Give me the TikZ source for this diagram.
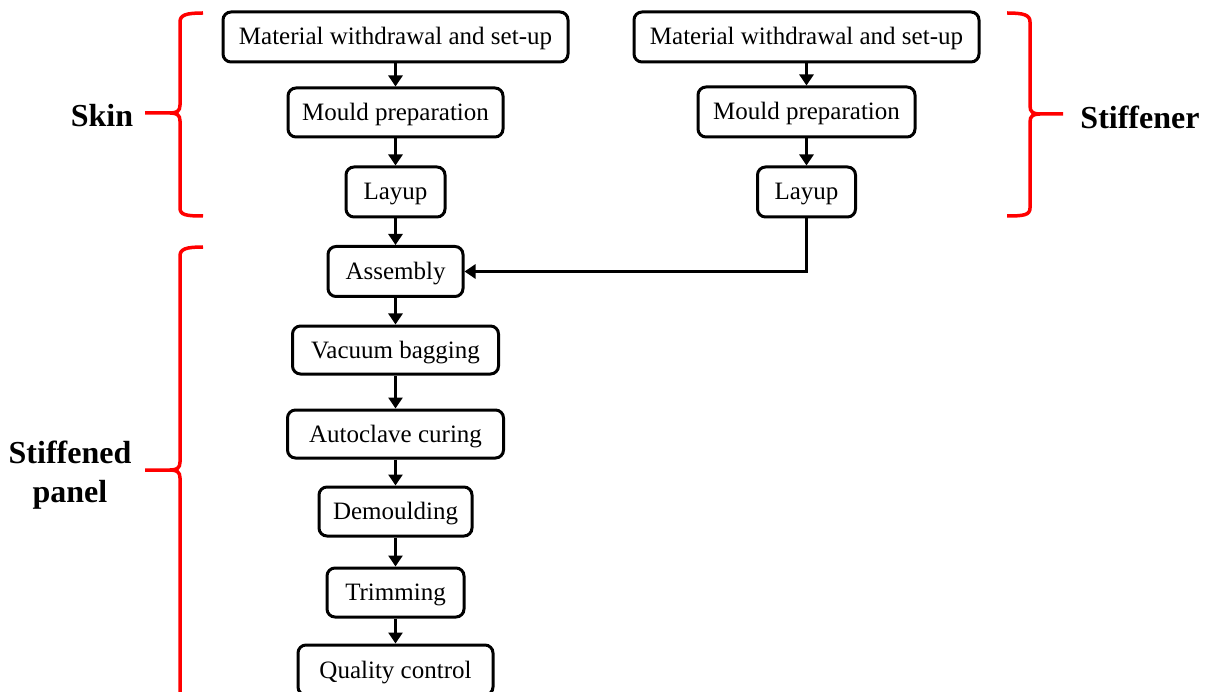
\documentclass[tikz,border=0pt]{standalone}
\usepackage{fontspec}
\setmainfont{Liberation Serif}
\usetikzlibrary{arrows.meta}
\begin{document}
\begin{tikzpicture}[x=1pt,y=-1pt,
  stepbox/.style={draw=black,line width=3pt,rounded corners=8pt,inner sep=0pt,
    text height=19pt,text depth=3pt,
    font=\fontsize{25}{29}\selectfont,align=center},
  arr/.style={line width=2.6pt,-{Triangle[width=14pt,length=11pt]}},
  brace/.style={draw=red,line width=3.5pt},
  grouplabel/.style={font=\fontsize{32}{39}\selectfont\bfseries,align=center,inner sep=0pt}]
\useasboundingbox (0,0) rectangle (1209,692);
% left column
\node[stepbox,minimum width=345pt,minimum height=50pt] (lm) at (395.5,37) {Material withdrawal and set-up};
\node[stepbox,minimum width=215pt,minimum height=49pt] (lmo) at (395.5,112.5) {Mould preparation};
\node[stepbox,minimum width=99pt,minimum height=50pt] (ll) at (395.5,192) {Layup};
\node[stepbox,minimum width=135pt,minimum height=50pt] (as) at (395.5,271.5) {Assembly};
\node[stepbox,minimum width=206pt,minimum height=48pt] (vb) at (395.5,350) {Vacuum bagging};
\node[stepbox,minimum width=216pt,minimum height=48pt] (ac) at (395.5,434) {Autoclave curing};
\node[stepbox,minimum width=153pt,minimum height=49pt] (dm) at (395.5,511.5) {Demoulding};
\node[stepbox,minimum width=137pt,minimum height=49pt] (tr) at (395.5,592.5) {Trimming};
\node[stepbox,minimum width=195pt,minimum height=50pt] (qc) at (395.5,670) {Quality control};
% right column
\node[stepbox,minimum width=345pt,minimum height=50pt] (rm) at (806.5,37) {Material withdrawal and set-up};
\node[stepbox,minimum width=217pt,minimum height=50pt] (rmo) at (806.5,112) {Mould preparation};
\node[stepbox,minimum width=98pt,minimum height=50pt] (rl) at (806.5,192) {Layup};
% connectors
\draw[arr] (lm.south) -- (lmo.north);
\draw[arr] (lmo.south) -- (ll.north);
\draw[arr] (ll.south) -- (as.north);
\draw[arr] (as.south) -- (vb.north);
\draw[arr] (vb.south) -- (ac.north);
\draw[arr] (ac.south) -- (dm.north);
\draw[arr] (dm.south) -- (tr.north);
\draw[arr] (tr.south) -- (qc.north);
\draw[arr] (rm.south) -- (rmo.north);
\draw[arr] (rmo.south) -- (rl.north);
\draw[arr] (rl.south) |- (as.east);
% braces
\draw[brace] (203,13) .. controls (186,13) and (180,15) .. (180,22) -- (180,105)
  .. controls (180,111) and (177,113) .. (170,113) -- (145,113);
\draw[brace] (170,113) .. controls (177,113) and (180,115) .. (180,121) -- (180,208)
  .. controls (180,215) and (186,216) .. (203,216);
\draw[brace] (1007,13) .. controls (1024,13) and (1030,15) .. (1030,22) -- (1030,106)
  .. controls (1030,112) and (1033,114) .. (1040,114) -- (1063,114);
\draw[brace] (1040,114) .. controls (1033,114) and (1030,116) .. (1030,122) -- (1030,208)
  .. controls (1030,215) and (1024,216) .. (1007,216);
\draw[brace] (203,247) .. controls (186,247) and (180,249) .. (180,256) -- (180,462)
  .. controls (180,468) and (177,470) .. (170,470) -- (145,470);
\draw[brace] (170,470) .. controls (177,470) and (180,472) .. (180,478) -- (180,700);
% labels
\node[grouplabel] (skin) at (102,116) {Skin};
\node[grouplabel] (stif) at (1140,117) {Stiffener};
\node[grouplabel] (panel) at (70,475) {Stiffened\\panel};
\end{tikzpicture}
\end{document}
